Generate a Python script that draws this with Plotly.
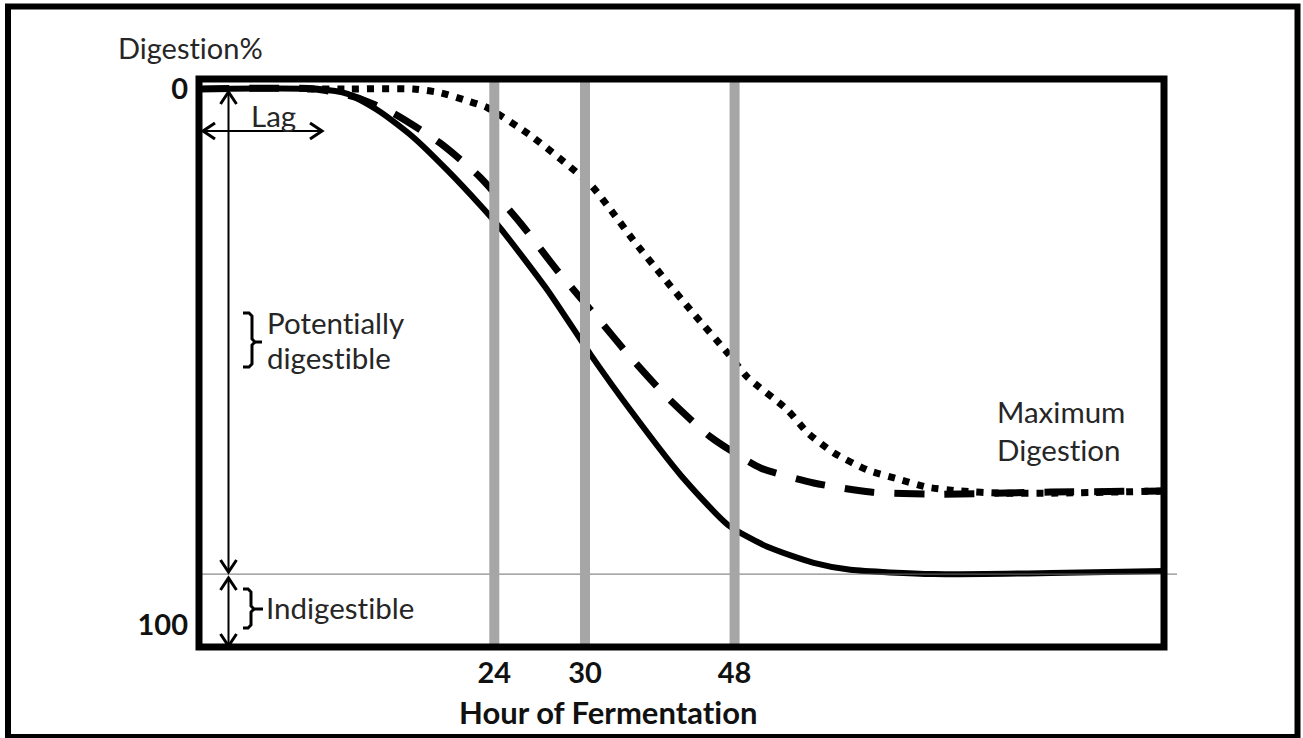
import plotly.graph_objects as go

# ---------------- data (schematic: x spans 0..100 across the plot, y is Digestion%, 0 at top)
hour_labels = ["24", "30", "48"]
hour_positions = [30.6, 40.0, 55.5]
y_tick_labels = ["0", "100"]
y_tick_values = [0, 100]
indigestible_level = 90.5

solid_x = [0, 12.2, 15.4, 18.8, 22.2, 25.7, 29.1, 31.2, 36.1, 40.6, 44.7, 49.9, 54.8, 58.9, 63.7, 67.5, 76.1, 88.3, 100]
solid_y = [0, 0, 0.9, 4.3, 9.0, 15.1, 21.6, 25.9, 37.5, 49.6, 59.9, 72.0, 81.3, 85.4, 88.4, 89.7, 90.5, 90.3, 89.9]

dashed_x = [0, 12.0, 16.2, 20.1, 25.0, 29.1, 33.3, 37.1, 41.3, 44.7, 48.5, 53.0, 58.2, 63.7, 69.6, 76.1, 88.3, 100]
dashed_y = [0, 0, 1.5, 4.5, 10.1, 16.4, 25.0, 33.8, 42.7, 50.0, 57.5, 64.9, 70.7, 73.5, 75.2, 75.6, 75.2, 75.0]

dotted_x = [11.2, 15.4, 22.2, 25.0, 27.8, 29.9, 34.6, 40.6, 42.9, 45.0, 48.1, 51.2, 54.8, 56.8, 61.0, 63.1, 65.8, 69.3, 72.7, 75.5, 78.9, 83.1, 88.3, 100]
dotted_y = [0, 0, 0, 0.7, 2.2, 3.5, 9.0, 17.9, 23.1, 28.2, 35.1, 41.8, 49.3, 53.7, 59.9, 64.2, 67.9, 71.1, 72.9, 74.3, 75.0, 75.4, 75.4, 75.0]

# ---------------- layout geometry
W, H = 1303, 738
L, R, T, B = 199, 139, 79, 91
PW, PH = W - L - R, H - T - B


def px(x):
    return (x - L) / PW


def py(y):
    return (H - B - y) / PH


FONT = "Lato"
TXT = "#262626"
ZW = "\u200c"  # prevents the t-i ligature

fig = go.Figure()
fig.add_trace(go.Scatter(x=solid_x, y=solid_y, mode="lines",
                         line=dict(color="black", width=6, shape="spline", smoothing=0.6),
                         hoverinfo="skip"))
fig.add_trace(go.Scatter(x=dashed_x, y=dashed_y, mode="lines",
                         line=dict(color="black", width=7, dash="30px,20px", shape="spline", smoothing=0.6),
                         hoverinfo="skip"))
fig.add_trace(go.Scatter(x=dotted_x, y=dotted_y, mode="lines",
                         line=dict(color="black", width=7, dash="7px,8px", shape="spline", smoothing=0.6),
                         hoverinfo="skip"))

shapes = []
# indigestible boundary (thin line)
shapes.append(dict(type="line", xref="paper", yref="y", x0=0, x1=px(1177),
                   y0=indigestible_level, y1=indigestible_level,
                   line=dict(color="#6e6e6e", width=1), layer="above"))
# gray hour lines
for hp in hour_positions:
    shapes.append(dict(type="line", xref="x", yref="paper", x0=hp, x1=hp, y0=0, y1=1,
                       line=dict(color="#a6a6a6", width=10), layer="above"))
# plot box
shapes.append(dict(type="rect", xref="paper", yref="paper", x0=0, x1=1, y0=0, y1=1,
                   line=dict(color="black", width=7), layer="above"))
# outer frame
shapes.append(dict(type="rect", xref="paper", yref="paper", x0=px(8), x1=px(1297.5),
                   y0=py(737), y1=py(6.5), line=dict(color="black", width=6), layer="above"))


def seg(x0, y0, x1, y1, w=2):
    shapes.append(dict(type="line", xref="paper", yref="paper", x0=px(x0), x1=px(x1),
                       y0=py(y0), y1=py(y1), line=dict(color="black", width=w), layer="above"))


def path(points, w=3):
    d = "M " + " L ".join(f"{px(a):.5f},{py(b):.5f}" for a, b in points)
    shapes.append(dict(type="path", xref="paper", yref="paper", path=d,
                       line=dict(color="black", width=w), layer="above"))


def head(tx, ty, direction, a=8, b=12):
    if direction == "up":
        path([(tx - a, ty + b), (tx, ty), (tx + a, ty + b)])
    elif direction == "down":
        path([(tx - a, ty - b), (tx, ty), (tx + a, ty - b)])
    elif direction == "left":
        path([(tx + b, ty - a), (tx, ty), (tx + b, ty + a)])
    else:
        path([(tx - b, ty - a), (tx, ty), (tx - b, ty + a)])


# potentially digestible arrow
seg(228.5, 92, 228.5, 572)
head(228.5, 92, "up")
head(228.5, 572, "down")
# indigestible arrow
seg(228.5, 578, 228.5, 646)
head(228.5, 578, "up")
head(228.5, 646, "down")
# lag arrow
seg(203, 131, 322, 131)
head(203, 131, "left")
head(322, 131, "right")


def brace(xl, xs, xn, yt, ym, yb):
    r = 3
    path([(xl, yt), (xs - r, yt), (xs, yt + r), (xs, ym - r), (xs + r, ym), (xn, ym)], w=3)
    path([(xs + r, ym), (xs, ym + r), (xs, yb - r), (xs - r, yb), (xl, yb)], w=3)


brace(243, 252, 262, 313, 342, 367)
brace(243, 251, 263, 589, 609, 628)

fig.update_layout(shapes=shapes)


def label(text, x, y, xanchor="left", size=29.5, bold=False):
    fig.add_annotation(text=text, xref="paper", yref="paper", x=px(x), y=py(y),
                       xanchor=xanchor, yanchor="middle", showarrow=False,
                       font=dict(family=FONT, size=size, color=TXT if not bold else "#111111",
                                 weight="bold" if bold else "normal"))


label("Diges" + "t" + ZW + "ion%", 116, 47, size=29)
label("Lag", 249, 115)
label("Poten" + "t" + ZW + "ially", 265, 322)
label("diges" + "t" + ZW + "ible", 265, 357)
label("Indiges" + "t" + ZW + "ible", 264, 607)
label("Maximum", 995, 411)
label("Diges" + "t" + ZW + "ion", 995, 449)
label("Hour of Fermenta" + "t" + ZW + "ion", 608, 712, xanchor="center", size=31, bold=True)

fig.update_layout(
    width=W, height=H, autosize=False,
    margin=dict(l=L, r=R, t=T, b=B, pad=0),
    paper_bgcolor="white", plot_bgcolor="white",
    showlegend=False,
    xaxis=dict(range=[0, 100], showgrid=False, zeroline=False, showline=False,
               tickmode="array", tickvals=hour_positions, ticktext=hour_labels, ticks="",
               ticklabelstandoff=6,
               tickfont=dict(family=FONT, size=29, color="#111111", weight="bold")),
    yaxis=dict(range=[104.1, -1.866], showgrid=False, zeroline=False, showline=False,
               tickmode="array", tickvals=y_tick_values, ticktext=y_tick_labels, ticks="",
               ticklabelstandoff=10,
               tickfont=dict(family=FONT, size=29, color="#111111", weight="bold")),
)

fig.write_html("out.html", config={"displayModeBar": False},
               post_script="document.body.style.margin='0';document.body.style.overflow='hidden';")
